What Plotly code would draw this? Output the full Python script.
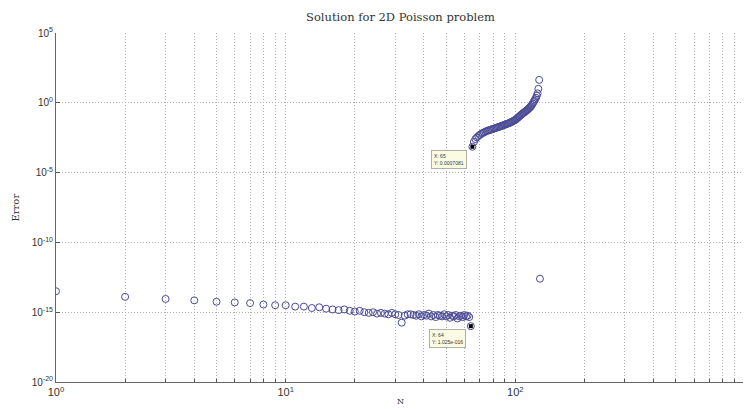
import numpy as np
import plotly.graph_objects as go

# Lower branch: N = 1..64
n_lower = list(range(1, 65))
err_lower = [3.16e-14, 1.26e-14, 8.91e-15, 7.08e-15, 5.62e-15, 5.01e-15, 4.47e-15, 3.55e-15,
             3.16e-15, 3.16e-15, 2.51e-15, 2.51e-15, 2.00e-15, 2.24e-15, 1.78e-15, 1.58e-15,
             1.41e-15, 1.58e-15, 1.26e-15, 1.12e-15, 1.26e-15, 1.00e-15, 8.91e-16, 1.00e-15,
             7.94e-16, 8.91e-16, 7.94e-16, 7.08e-16, 8.91e-16, 7.08e-16, 6.31e-16, 1.78e-16,
             5.62e-16, 7.08e-16, 7.08e-16, 6.31e-16, 5.62e-16, 7.08e-16, 5.01e-16, 6.31e-16,
             5.62e-16, 7.94e-16, 5.01e-16, 6.31e-16, 4.47e-16, 6.31e-16, 5.62e-16, 5.01e-16,
             7.08e-16, 5.01e-16, 6.31e-16, 3.98e-16, 5.62e-16, 5.01e-16, 6.31e-16, 3.55e-16,
             5.01e-16, 5.62e-16, 4.47e-16, 6.31e-16, 5.01e-16, 5.62e-16, 4.47e-16, 1.00e-16]

# Upper branch: N = 65..127
n_upper = list(range(65, 128))
err_upper = [7.08e-4, 1.58e-3, 2.51e-3, 3.31e-3, 4.17e-3, 5.01e-3, 5.89e-3, 6.76e-3,
             7.59e-3, 8.51e-3, 9.33e-3, 1.02e-2, 1.10e-2, 1.17e-2, 1.26e-2, 1.35e-2,
             1.45e-2, 1.55e-2, 1.66e-2, 1.78e-2, 1.91e-2, 2.04e-2, 2.19e-2, 2.34e-2,
             2.51e-2, 2.69e-2, 2.88e-2, 3.09e-2, 3.31e-2, 3.55e-2, 3.80e-2, 4.17e-2,
             4.57e-2, 5.01e-2, 5.50e-2, 6.03e-2,
             6.92e-2, 7.94e-2, 9.12e-2, 0.105, 0.120, 0.138, 0.158, 0.178, 0.200, 0.224,
             0.251, 0.282, 0.316, 0.363, 0.417, 0.479, 0.562, 0.708, 0.891, 1.12, 1.41,
             1.78, 2.29, 3.16, 4.79, 10.0, 43.7]

# Last point
n_last = [128]
err_last = [2.5e-13]

x_all = n_lower + n_upper + n_last
y_all = err_lower + err_upper + err_last

# Data tips
tip_x = [65, 64]
tip_y = [7.08e-4, 1.0e-16]
tip_text = ["X: 65<br>Y: 0.0007081", "X: 64<br>Y: 1.025e-016"]

# Axis ticks
x_tickvals = [1, 10, 100, 1000]
x_ticktext = ["10<sup>0</sup>", "10<sup>1</sup>", "10<sup>2</sup>", "10<sup>3</sup>"]
x_minorvals = [m * 10 ** k for k in range(3) for m in range(2, 10)]
y_tickvals = [1e5, 1e0, 1e-5, 1e-10, 1e-15, 1e-20]
y_ticktext = ["10<sup>5</sup>", "10<sup>0</sup>", "10<sup>-5</sup>", "10<sup>-10</sup>",
              "10<sup>-15</sup>", "10<sup>-20</sup>"]

marker_color = "#4a4a96"

W, H = 743, 401
ML, MR, MT, MB = 48, 6, 25, 27
plot_w = W - ML - MR
plot_h = H - MT - MB

fig = go.Figure()
fig.add_trace(go.Scatter(
    x=x_all, y=y_all, mode="markers",
    marker=dict(symbol="circle-open", size=7, color=marker_color, line=dict(width=1, color=marker_color)),
    showlegend=False, hoverinfo="x+y"))
fig.add_trace(go.Scatter(
    x=tip_x, y=tip_y, mode="markers",
    marker=dict(symbol="square", size=4, color="black"),
    showlegend=False))

for tx, ty, tt in zip(tip_x, tip_y, tip_text):
    fig.add_annotation(x=np.log10(tx), y=np.log10(ty), xref="x", yref="y", text=tt,
                       showarrow=False, xanchor="right", yanchor="top", xshift=-5, yshift=-3,
                       align="left", bgcolor="#fbfbe4", bordercolor="#b0b0a0", borderwidth=1,
                       borderpad=2, font=dict(size=5, color="#333", family="Liberation Sans"))

# Axis titles as annotations to keep plot area fixed
fig.add_annotation(text="Error", xref="paper", yref="paper", x=-41 / plot_w, y=0.5, showarrow=False,
                   textangle=-90, xanchor="center", yanchor="middle",
                   font=dict(family="DejaVu Serif", size=10, color="#333"))
fig.add_annotation(text="N", xref="paper", yref="paper", x=0.5, y=-(MB - 1) / plot_h, showarrow=False,
                   xanchor="center", yanchor="bottom",
                   font=dict(family="DejaVu Serif", size=8, color="#333"))

grid = dict(showgrid=True, gridcolor="#b0b0b0", griddash="1px,2px", gridwidth=1)

fig.update_layout(
    width=W, height=H,
    margin=dict(l=ML, r=MR, t=MT, b=MB, autoexpand=False),
    paper_bgcolor="white", plot_bgcolor="white",
    title=dict(text="Solution for 2D Poisson problem", xref="paper", x=0.5, xanchor="center",
               y=1 - 5 / H, yanchor="top", font=dict(family="DejaVu Serif", size=11.5, color="#333")),
    xaxis=dict(type="log", range=[0, 3], tickmode="array", tickvals=x_tickvals, ticktext=x_ticktext,
               ticks="inside", ticklen=3, tickcolor="#555", showline=True, linecolor="#666",
               linewidth=1, mirror=False, zeroline=False, automargin=False,
               tickfont=dict(family="Liberation Sans", size=11, color="#333"),
               minor=dict(tickmode="array", tickvals=x_minorvals, ticks="inside", ticklen=3,
                          tickcolor="#555", showgrid=True, gridcolor="#b0b0b0",
                          griddash="1px,2px", gridwidth=1),
               **grid),
    yaxis=dict(type="log", range=[-20, 5], tickmode="array", tickvals=y_tickvals, ticktext=y_ticktext,
               ticks="inside", ticklen=4, tickcolor="#555", showline=True, linecolor="#666",
               linewidth=1, mirror=False, zeroline=False, automargin=False,
               tickfont=dict(family="Liberation Sans", size=10, color="#333"),
               **grid),
)

fig.write_html("out.html")
